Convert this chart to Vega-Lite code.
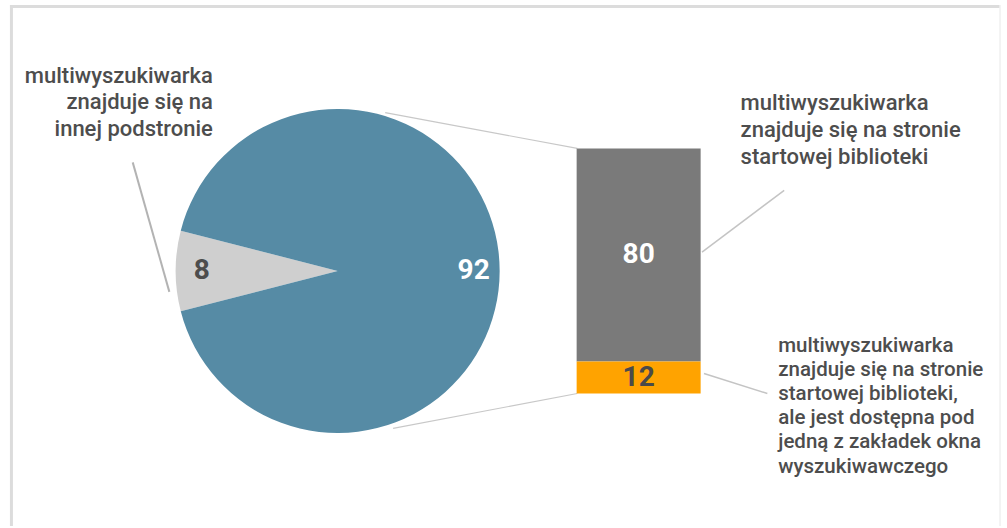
{
  "$schema": "https://vega.github.io/schema/vega-lite/v6.json",
  "width": 1007,
  "height": 528,
  "autosize": {"type": "fit", "contains": "padding"},
  "padding": 0,
  "background": "#ffffff",
  "config": {"view": {"stroke": null}, "text": {"font": "Roboto"}},
  "datasets": {
    "pie": [
      {"key": "inna", "label": "multiwyszukiwarka znajduje się na innej podstronie", "value": 8},
      {"key": "startowa", "label": "multiwyszukiwarka znajduje się na stronie startowej biblioteki", "value": 92}
    ],
    "bar": [
      {"key": "startowa", "label": "multiwyszukiwarka znajduje się na stronie startowej biblioteki", "value": 80},
      {"key": "zakladka", "label": "multiwyszukiwarka znajduje się na stronie startowej biblioteki, ale jest dostępna pod jedną z zakładek okna wyszukiwawczego", "value": 12}
    ],
    "one": [{}]
  },
  "layer": [
    {
      "layer": [
        {
          "data": {"name": "one"},
          "mark": {"type": "rule", "color": "#dcdcdc", "strokeWidth": 3},
          "encoding": {
            "x": {"datum": 5, "type": "quantitative", "scale": {"domain": [0, 1007], "nice": false, "zero": false}, "axis": null},
            "x2": {"datum": 1005},
            "y": {"datum": 6.5, "type": "quantitative", "scale": {"domain": [0, 528], "reverse": true, "nice": false, "zero": false}, "axis": null},
            "y2": {"datum": 6.5}
          }
        },
        {
          "data": {"name": "one"},
          "mark": {"type": "rule", "color": "#dcdcdc", "strokeWidth": 3},
          "encoding": {
            "x": {"datum": 6.5, "type": "quantitative", "scale": {"domain": [0, 1007], "nice": false, "zero": false}, "axis": null},
            "x2": {"datum": 6.5},
            "y": {"datum": 5, "type": "quantitative", "scale": {"domain": [0, 528], "reverse": true, "nice": false, "zero": false}, "axis": null},
            "y2": {"datum": 528}
          }
        },
        {
          "data": {"name": "one"},
          "mark": {"type": "rule", "color": "#f0f0f0", "strokeWidth": 1.5},
          "encoding": {
            "x": {"datum": 1005, "type": "quantitative", "scale": {"domain": [0, 1007], "nice": false, "zero": false}, "axis": null},
            "x2": {"datum": 1005},
            "y": {"datum": 5, "type": "quantitative", "scale": {"domain": [0, 528], "reverse": true, "nice": false, "zero": false}, "axis": null},
            "y2": {"datum": 528}
          }
        },
        {
          "data": {"name": "pie"},
          "mark": {"type": "arc", "outerRadius": 162},
          "encoding": {
            "theta": {"field": "value", "type": "quantitative", "stack": true, "scale": {"range": [4.46106, 10.74425]}},
            "order": {"field": "key", "sort": "ascending"},
            "color": {"field": "key", "type": "nominal", "scale": {"domain": ["inna", "startowa"], "range": ["#cfcfcf", "#568ba5"]}, "legend": null},
            "x": {"datum": 336, "type": "quantitative", "scale": {"domain": [0, 1007], "nice": false, "zero": false}, "axis": null},
            "y": {"datum": 272, "type": "quantitative", "scale": {"domain": [0, 528], "reverse": true, "nice": false, "zero": false}, "axis": null}
          }
        },
        {
          "data": {"name": "pie"},
          "mark": {"type": "text", "radius": 136, "fontSize": 28, "fontWeight": "bold", "baseline": "middle", "align": "center"},
          "encoding": {
            "theta": {"field": "value", "type": "quantitative", "stack": true, "scale": {"range": [4.46106, 10.74425]}},
            "order": {"field": "key", "sort": "ascending"},
            "detail": {"field": "key"},
            "text": {"field": "value", "type": "quantitative"},
            "color": {"condition": {"test": "datum.key == 'inna'", "value": "#4d4d4d"}, "value": "#ffffff"},
            "x": {"datum": 336, "type": "quantitative", "scale": {"domain": [0, 1007], "nice": false, "zero": false}, "axis": null},
            "y": {"datum": 272, "type": "quantitative", "scale": {"domain": [0, 528], "reverse": true, "nice": false, "zero": false}, "axis": null}
          }
        },
        {
          "data": {"name": "one"},
          "mark": {"type": "rule", "color": "#c8c8c8", "strokeWidth": 1.2},
          "encoding": {
            "x": {"datum": 384, "type": "quantitative", "scale": {"domain": [0, 1007], "nice": false, "zero": false}, "axis": null},
            "y": {"datum": 113, "type": "quantitative", "scale": {"domain": [0, 528], "reverse": true, "nice": false, "zero": false}, "axis": null},
            "x2": {"datum": 578},
            "y2": {"datum": 149}
          }
        },
        {
          "data": {"name": "one"},
          "mark": {"type": "rule", "color": "#c8c8c8", "strokeWidth": 1.2},
          "encoding": {
            "x": {"datum": 392, "type": "quantitative", "scale": {"domain": [0, 1007], "nice": false, "zero": false}, "axis": null},
            "y": {"datum": 430, "type": "quantitative", "scale": {"domain": [0, 528], "reverse": true, "nice": false, "zero": false}, "axis": null},
            "x2": {"datum": 578},
            "y2": {"datum": 395}
          }
        },
        {
          "data": {"name": "one"},
          "mark": {"type": "rule", "color": "#b3b3b3", "strokeWidth": 2},
          "encoding": {
            "x": {"datum": 129, "type": "quantitative", "scale": {"domain": [0, 1007], "nice": false, "zero": false}, "axis": null},
            "y": {"datum": 163, "type": "quantitative", "scale": {"domain": [0, 528], "reverse": true, "nice": false, "zero": false}, "axis": null},
            "x2": {"datum": 166},
            "y2": {"datum": 293}
          }
        },
        {
          "data": {"name": "one"},
          "mark": {"type": "rule", "color": "#c4c4c4", "strokeWidth": 1.5},
          "encoding": {
            "x": {"datum": 704, "type": "quantitative", "scale": {"domain": [0, 1007], "nice": false, "zero": false}, "axis": null},
            "y": {"datum": 253, "type": "quantitative", "scale": {"domain": [0, 528], "reverse": true, "nice": false, "zero": false}, "axis": null},
            "x2": {"datum": 787},
            "y2": {"datum": 191}
          }
        },
        {
          "data": {"name": "one"},
          "mark": {"type": "rule", "color": "#c4c4c4", "strokeWidth": 1.5},
          "encoding": {
            "x": {"datum": 706, "type": "quantitative", "scale": {"domain": [0, 1007], "nice": false, "zero": false}, "axis": null},
            "y": {"datum": 375, "type": "quantitative", "scale": {"domain": [0, 528], "reverse": true, "nice": false, "zero": false}, "axis": null},
            "x2": {"datum": 770},
            "y2": {"datum": 395}
          }
        },
        {
          "data": {"name": "one"},
          "mark": {"type": "text", "align": "right", "baseline": "alphabetic", "fontSize": 22, "fontWeight": 500, "lineHeight": 26.5, "color": "#4d4d4d"},
          "encoding": {
            "x": {"datum": 210, "type": "quantitative", "scale": {"domain": [0, 1007], "nice": false, "zero": false}, "axis": null},
            "y": {"datum": 83, "type": "quantitative", "scale": {"domain": [0, 528], "reverse": true, "nice": false, "zero": false}, "axis": null},
            "text": {"value": ["multiwyszukiwarka", "znajduje się na", "innej podstronie"]}
          }
        },
        {
          "data": {"name": "one"},
          "mark": {"type": "text", "align": "left", "baseline": "alphabetic", "fontSize": 22, "fontWeight": 500, "lineHeight": 27, "color": "#4d4d4d"},
          "encoding": {
            "x": {"datum": 743, "type": "quantitative", "scale": {"domain": [0, 1007], "nice": false, "zero": false}, "axis": null},
            "y": {"datum": 110, "type": "quantitative", "scale": {"domain": [0, 528], "reverse": true, "nice": false, "zero": false}, "axis": null},
            "text": {"value": ["multiwyszukiwarka", "znajduje się na stronie", "startowej biblioteki"]}
          }
        },
        {
          "data": {"name": "one"},
          "mark": {"type": "text", "align": "left", "baseline": "alphabetic", "fontSize": 20.5, "fontWeight": 500, "lineHeight": 24.2, "color": "#4d4d4d"},
          "encoding": {
            "x": {"datum": 781, "type": "quantitative", "scale": {"domain": [0, 1007], "nice": false, "zero": false}, "axis": null},
            "y": {"datum": 353, "type": "quantitative", "scale": {"domain": [0, 528], "reverse": true, "nice": false, "zero": false}, "axis": null},
            "text": {"value": ["multiwyszukiwarka", "znajduje się na stronie", "startowej biblioteki,", "ale jest dostępna pod", "jedną z zakładek okna", "wyszukiwawczego"]}
          }
        }
      ]
    },
    {
      "data": {"name": "bar"},
      "layer": [
        {
          "mark": {"type": "bar", "width": 124, "orient": "vertical"},
          "encoding": {
            "x": {"datum": 640, "type": "quantitative", "scale": {"domain": [0, 1007], "nice": false, "zero": false}, "axis": null},
            "y": {"field": "value", "type": "quantitative", "stack": "zero", "scale": {"domain": [-49.74, 147.72], "nice": false, "zero": false}, "axis": null},
            "order": {"field": "key", "sort": "descending"},
            "color": {"field": "key", "type": "nominal", "scale": {"domain": ["startowa", "zakladka"], "range": ["#7a7a7a", "#ffa300"]}, "legend": null}
          }
        },
        {
          "mark": {"type": "text", "fontSize": 28, "fontWeight": "bold", "baseline": "middle", "align": "center"},
          "encoding": {
            "x": {"datum": 640, "type": "quantitative", "scale": {"domain": [0, 1007], "nice": false, "zero": false}, "axis": null},
            "y": {"field": "value", "type": "quantitative", "stack": "zero", "bandPosition": 0.5, "scale": {"domain": [-49.74, 147.72], "nice": false, "zero": false}, "axis": null},
            "order": {"field": "key", "sort": "descending"},
            "detail": {"field": "key"},
            "text": {"field": "value", "type": "quantitative"},
            "color": {"condition": {"test": "datum.key == 'zakladka'", "value": "#4a4a4a"}, "value": "#ffffff"}
          }
        }
      ]
    }
  ],
  "resolve": {"scale": {"y": "independent", "color": "independent"}}
}
